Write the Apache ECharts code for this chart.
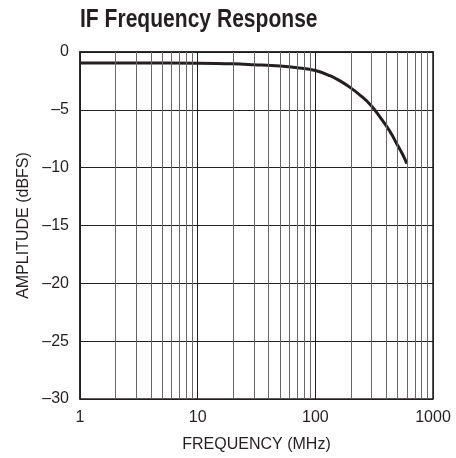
<!DOCTYPE html>
<html><head><meta charset="utf-8">
<script src="https://cdn.jsdelivr.net/npm/echarts@6/dist/echarts.min.js"></script>
<style>html,body{margin:0;padding:0;background:#fff}#c{width:456px;height:458px}</style>
</head><body><div id="c"></div>
<script>
const titleText = 'IF Frequency Response';
const xName = 'FREQUENCY (MHz)';
const yName = 'AMPLITUDE (dBFS)';
const freqMHz = [1, 3, 10, 20, 30, 50, 70, 100, 133, 162, 200, 248, 300, 356, 400, 450, 500, 550, 600];
const amplitude = [-0.95, -0.95, -0.97, -1.02, -1.1, -1.22, -1.36, -1.6, -2.05, -2.5, -3.1, -3.85, -4.66, -5.65, -6.37, -7.2, -8.07, -8.82, -9.65];
const minorGrid = [2,3,4,5,6,7,8,9,20,30,40,50,60,70,80,90,200,300,400,500,600,700,800,900];
const FONT = '"Liberation Sans Narrow", "Liberation Sans", Arial, sans-serif';

const chart = echarts.init(document.getElementById('c'), null, {renderer: 'canvas'});
chart.setOption({
  animation: false,
  backgroundColor: '#fff',
  graphic: [{
    type: 'text', left: null, x: 80, y: 7, scaleX: 0.81, scaleY: 1,
    style: {text: titleText, fontFamily: FONT, fontWeight: 'bold', fontSize: 26, fill: '#231f20',
      textAlign: 'left', textVerticalAlign: 'top'}
  }],
  grid: {left: 80, right: 23, top: 52, bottom: 54, show: true, borderColor: '#231f20', borderWidth: 1.5},
  xAxis: {
    type: 'log', logBase: 10, min: 1, max: 1000,
    name: xName, nameLocation: 'middle', nameGap: 38,
    nameTextStyle: {fontFamily: FONT, fontSize: 16, color: '#231f20'},
    axisLine: {show: true, lineStyle: {color: '#231f20', width: 1.5}},
    axisTick: {show: false},
    axisLabel: {fontFamily: FONT, fontSize: 16, color: '#231f20', margin: 11,
      formatter: v => String(Math.round(v))},
    splitLine: {show: true, lineStyle: {color: '#231f20', width: 1}},
    minorTick: {show: false}, minorSplitLine: {show: false}
  },
  yAxis: {
    type: 'value', min: -30, max: 0, interval: 5,
    name: yName, nameLocation: 'middle', nameGap: 47, nameRotate: 90,
    nameTextStyle: {fontFamily: FONT, fontSize: 16, color: '#231f20'},
    axisLine: {show: true, lineStyle: {color: '#231f20', width: 1.5}},
    axisTick: {show: false},
    axisLabel: {fontFamily: FONT, fontSize: 16, color: '#231f20', margin: 11,
      formatter: v => String(v).replace('-', '\u2013')},
    splitLine: {show: true, lineStyle: {color: '#231f20', width: 1}}
  },
  series: [{
    type: 'line', smooth: 0.4, symbol: 'none',
    data: freqMHz.map((f, i) => [f, amplitude[i]]),
    lineStyle: {color: '#231f20', width: 3},
    markLine: {
      silent: true, symbol: 'none', label: {show: false},
      lineStyle: {color: '#666', width: 1, type: 'solid'},
      data: minorGrid.map(v => ({xAxis: v}))
    }
  }]
});
</script></body></html>
